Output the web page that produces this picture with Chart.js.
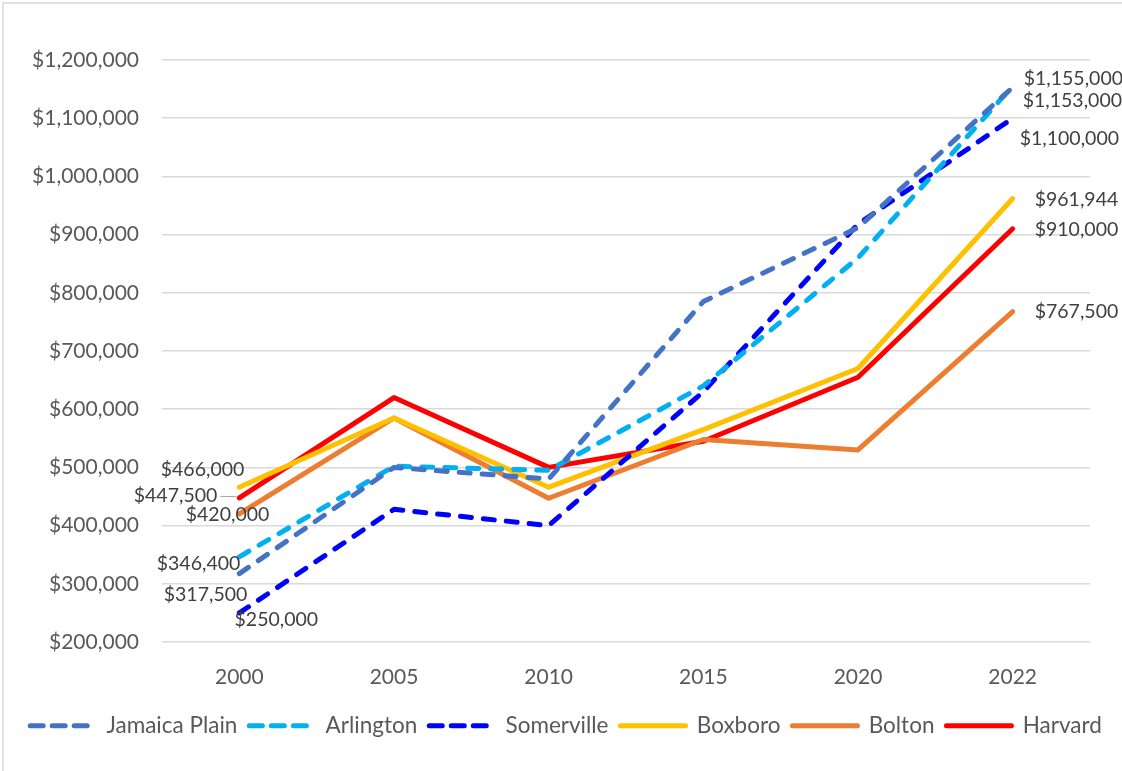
<!DOCTYPE html>
<html>
<head>
<meta charset="utf-8">
<script src="https://cdn.jsdelivr.net/npm/chart.js@4"></script>
<style>
  body { margin: 0; background: #fff; }
</style>
</head>
<body>
<canvas id="myChart" width="1122" height="771"></canvas>
<script>
const years = ["2000", "2005", "2010", "2015", "2020", "2022"];

const jamaicaPlain = [317500, 500000, 480000, 785000, 912000, 1153000];
const arlington = [346400, 502000, 495000, 640000, 860000, 1155000];
const somerville = [250000, 428000, 400000, 630000, 918000, 1100000];
const boxboro = [466000, 585000, 466000, 565000, 670000, 961944];
const bolton = [420000, 585000, 447000, 548000, 530000, 767500];
const harvard = [447500, 620000, 500000, 545000, 655000, 910000];

const FONT = "Lato";

function money(v) {
  return "$" + v.toLocaleString("en-US");
}

// where each end label sits, relative to its point
const labelSpots = [
  { set: 3, idx: 0, dx: 5, dy: -17, align: "right" },
  { set: 5, idx: 0, dx: -22, dy: -2, align: "right", leader: true },
  { set: 4, idx: 0, dx: 30, dy: 1, align: "right" },
  { set: 1, idx: 0, dx: 1, dy: 7, align: "right" },
  { set: 0, idx: 0, dx: 8, dy: 21, align: "right" },
  { set: 2, idx: 0, dx: 37, dy: 7, align: "center" },
  { set: 1, idx: 5, dx: 11, dy: -7, align: "left" },
  { set: 0, idx: 5, dx: 10, dy: 13, align: "left" },
  { set: 2, idx: 5, dx: 7, dy: 21, align: "left" },
  { set: 3, idx: 5, dx: 22, dy: 1, align: "left" },
  { set: 5, idx: 5, dx: 22, dy: 1, align: "left" },
  { set: 4, idx: 5, dx: 22, dy: 0, align: "left" },
];

const endLabels = {
  id: "endLabels",
  beforeDraw(chart) {
    const ctx = chart.ctx;
    ctx.save();
    ctx.fillStyle = "#ffffff";
    ctx.fillRect(0, 0, chart.width, chart.height);
    ctx.strokeStyle = "#D9D9D9";
    ctx.lineWidth = 1.5;
    ctx.strokeRect(3, 3, chart.width + 10, chart.height + 10);
    ctx.restore();
  },
  afterDatasetsDraw(chart) {
    const ctx = chart.ctx;
    ctx.save();
    ctx.font = "19.5px " + FONT;
    ctx.fillStyle = "#404040";
    ctx.textBaseline = "middle";
    labelSpots.forEach((s) => {
      const pt = chart.getDatasetMeta(s.set).data[s.idx];
      const v = chart.data.datasets[s.set].data[s.idx];
      ctx.textAlign = s.align;
      ctx.fillText(money(v), pt.x + s.dx, pt.y + s.dy);
      if (s.leader) {
        ctx.strokeStyle = "#A6A6A6";
        ctx.lineWidth = 1;
        ctx.beginPath();
        ctx.moveTo(pt.x + s.dx + 3, pt.y + s.dy + 0.5);
        ctx.lineTo(pt.x - 3, pt.y + s.dy + 0.5);
        ctx.stroke();
      }
    });
    ctx.restore();
  },
};

function dashed(label, color, data) {
  return {
    label: label,
    data: data,
    borderColor: color,
    backgroundColor: color,
    borderWidth: 5,
    borderDash: [11, 12],
    borderCapStyle: "round",
    borderJoinStyle: "round",
    pointRadius: 0,
    tension: 0,
  };
}

function solid(label, color, data) {
  return {
    label: label,
    data: data,
    borderColor: color,
    backgroundColor: color,
    borderWidth: 5,
    borderCapStyle: "round",
    borderJoinStyle: "round",
    pointRadius: 0,
    tension: 0,
  };
}

const inputs = {
  labels: years,
  datasets: [
    dashed("Jamaica Plain", "#4472C4", jamaicaPlain),
    dashed("Arlington", "#00B0F0", arlington),
    dashed("Somerville", "#0000FF", somerville),
    solid("Boxboro", "#FFC000", boxboro),
    solid("Bolton", "#ED7D31", bolton),
    solid("Harvard", "#FF0000", harvard),
  ],
};

const config = {
  type: "line",
  data: inputs,
  plugins: [endLabels],
  options: {
    responsive: false,
    animation: false,
    devicePixelRatio: 1,
    layout: {
      padding: { left: 10, right: 0, top: 60, bottom: 24 },
    },
    scales: {
      x: {
        offset: true,
        grid: { display: false },
        border: { display: false },
        ticks: {
          padding: 15,
          color: "#595959",
          font: { family: FONT, size: 21 },
        },
        afterFit: (s) => {
          s.height = 60.5;
        },
      },
      y: {
        min: 200000,
        max: 1200000,
        grid: { color: "#D9D9D9", lineWidth: 1.5, drawTicks: false },
        border: { display: false },
        ticks: {
          stepSize: 100000,
          padding: 23,
          color: "#595959",
          font: { family: FONT, size: 21 },
          callback: (v) => money(v),
        },
        afterFit: (s) => {
          s.width = 152;
        },
      },
      // empty right-hand strip so the plot stops where the original does
      yRight: {
        position: "right",
        min: 200000,
        max: 1200000,
        grid: { display: false },
        border: { display: false },
        ticks: { display: false },
        afterFit: (s) => {
          s.width = 32;
        },
      },
    },
    plugins: {
      tooltip: { enabled: false },
      legend: {
        position: "bottom",
        labels: {
          usePointStyle: true,
          pointStyle: "line",
          pointStyleWidth: 65,
          padding: 12,
          color: "#595959",
          font: { family: FONT, size: 22.5 },
          generateLabels: (chart) => {
            const items = Chart.defaults.plugins.legend.labels.generateLabels(chart);
            items.forEach((it) => {
              const ds = chart.data.datasets[it.datasetIndex];
              it.lineDash = ds.borderDash ? [13, 9] : [];
              it.lineWidth = 5;
              it.lineCap = "round";
              it.strokeStyle = ds.borderColor;
            });
            return items;
          },
        },
      },
    },
  },
};

var myChart = new Chart(document.getElementById("myChart"), config);
</script>
</body>
</html>
